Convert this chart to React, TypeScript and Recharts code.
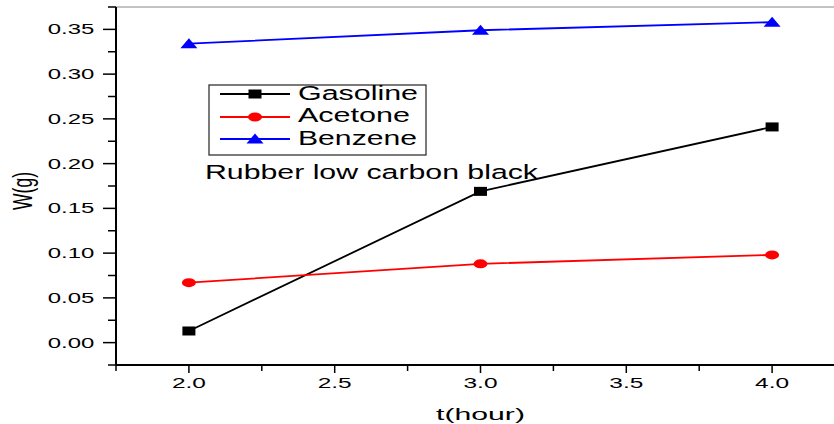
import React from "react";
import { LineChart, Line, XAxis, YAxis, ReferenceLine, Legend, Label } from "recharts";

// ---- data ----
const hours = [2.0, 3.0, 4.0];
const gasoline = [0.013, 0.169, 0.241];
const acetone = [0.067, 0.088, 0.098];
const benzene = [0.334, 0.349, 0.358];
const seriesNames = ["Gasoline", "Acetone", "Benzene"];
const xTicks = [1.75, 2.0, 2.25, 2.5, 2.75, 3.0, 3.25, 3.5, 3.75, 4.0, 4.25];
const yTicks = [-0.025, 0.0, 0.025, 0.05, 0.075, 0.1, 0.125, 0.15, 0.175, 0.2, 0.225, 0.25, 0.275, 0.3, 0.325, 0.35, 0.375];
const titleX = "t(hour)";
const titleY = "W(g)";
const note = "Rubber low carbon black";

const data = hours.map((h, i) => ({
  t: h,
  Gasoline: gasoline[i],
  Acetone: acetone[i],
  Benzene: benzene[i],
}));

const FONT = "'Liberation Sans', Arial, sans-serif";
const COLORS: Record<string, string> = { Gasoline: "#000000", Acetone: "#ff0000", Benzene: "#0000ff" };

const isMult = (v: number, step: number) => Math.abs(v / step - Math.round(v / step)) < 1e-6;

const Marker = ({ kind, cx, cy, color }: { kind: string; cx: number; cy: number; color: string }) => {
  if (cx == null || cy == null) return null;
  if (kind === "Gasoline") return <rect x={cx - 6.5} y={cy - 4.5} width={13} height={9} fill={color} />;
  if (kind === "Acetone") return <ellipse cx={cx} cy={cy} rx={7} ry={4.5} fill={color} />;
  return <polygon points={`${cx - 8.5},${cy + 4.5} ${cx + 8.5},${cy + 4.5} ${cx},${cy - 5.5}`} fill={color} />;
};

const makeDot = (name: string) => (p: any) => (
  <Marker key={`${name}-${p.index}`} kind={name} cx={p.cx} cy={p.cy} color={COLORS[name]} />
);

const XTick = (p: any) => {
  const v = p.payload.value as number;
  const major = isMult(v, 0.5);
  return (
    <g>
      <line x1={p.x} x2={p.x} y1={p.y} y2={p.y + (major ? 8 : 6)} stroke="#000" strokeWidth={1.5} />
      {major && v > 1.8 && (
        <text x={p.x - 17} y={p.y + 23} fontFamily={FONT} fontSize={14} textLength={34} lengthAdjust="spacingAndGlyphs" fill="#000">
          {v.toFixed(1)}
        </text>
      )}
    </g>
  );
};

const YTick = (p: any) => {
  const v = p.payload.value as number;
  const major = isMult(v, 0.05);
  return (
    <g>
      <line x1={p.x} x2={p.x - (major ? 13 : 8)} y1={p.y} y2={p.y} stroke="#000" strokeWidth={1.5} />
      {major && (
        <text x={p.x - 68.3} y={p.y + 5} fontFamily={FONT} fontSize={14} textLength={46.6} lengthAdjust="spacingAndGlyphs" fill="#000">
          {v.toFixed(2)}
        </text>
      )}
    </g>
  );
};

const XTitle = (props: any) => {
  const vb = props.viewBox || { x: 116, y: 365, width: 729, height: 59 };
  const cx = vb.x + vb.width / 2;
  return (
    <text x={cx - 44.5} y={vb.y + vb.height - 4} fontFamily={FONT} fontSize={17} textLength={89} lengthAdjust="spacingAndGlyphs" fill="#000">
      {titleX}
    </text>
  );
};

const YTitle = () => (
  <text
    transform="translate(32,210) rotate(-90)"
    x={0}
    y={0}
    fontFamily={FONT}
    fontSize={27}
    textLength={38}
    lengthAdjust="spacingAndGlyphs"
    fill="#000"
  >
    {titleY}
  </text>
);

const LegendBox = (props: any) => {
  const payload = ([...(props.payload || [])] as any[]).sort(
    (a, b) => seriesNames.indexOf(a.value) - seriesNames.indexOf(b.value)
  );
  const rows = [14, 37, 59];
  const base = [20, 42, 65];
  const widths: Record<string, number> = { Gasoline: 120, Acetone: 112, Benzene: 119 };
  return (
    <svg width={345} height={110} style={{ display: "block", overflow: "visible" }}>
      <rect x={9} y={5} width={217} height={70} fill="#fff" stroke="#333" strokeWidth={1.3} />
      {payload.map((e, i) => {
        const name = e.value as string;
        const color = e.color || COLORS[name];
        return (
          <g key={name}>
            <line x1={20} x2={90} y1={rows[i]} y2={rows[i]} stroke={color} strokeWidth={1.8} />
            <Marker kind={name} cx={55} cy={rows[i]} color={color} />
            <text x={98} y={base[i]} fontFamily={FONT} fontSize={19.5} textLength={widths[name]} lengthAdjust="spacingAndGlyphs" fill="#000">
              {name}
            </text>
          </g>
        );
      })}
      <text x={5} y={99} fontFamily={FONT} fontSize={20.5} textLength={333} lengthAdjust="spacingAndGlyphs" fill="#000">
        {note}
      </text>
    </svg>
  );
};

export default function App() {
  return (
    <div style={{ position: "fixed", left: 0, top: 0, width: 834, height: 424, overflow: "hidden", background: "#fff" }}>
      <LineChart width={860} height={424} data={data} margin={{ top: 7, right: 15, bottom: 0, left: 0 }}>
        <XAxis
          dataKey="t"
          type="number"
          domain={[1.75, 4.25]}
          ticks={xTicks}
          interval={0}
          allowDataOverflow
          height={59}
          tickSize={0}
          tickMargin={0}
          tickLine={false}
          axisLine={{ stroke: "#000", strokeWidth: 2 }}
          tick={<XTick />}
          label={<Label content={<XTitle />} />}
        />
        <YAxis
          type="number"
          domain={[-0.025, 0.375]}
          ticks={yTicks}
          interval={0}
          allowDataOverflow
          width={116}
          tickSize={0}
          tickMargin={0}
          tickLine={false}
          axisLine={{ stroke: "#000", strokeWidth: 2 }}
          tick={<YTick />}
          label={<Label content={<YTitle />} />}
        />
        <ReferenceLine y={0.375} stroke="#888" strokeWidth={1} />
        <Legend
          content={<LegendBox />}
          wrapperStyle={{ position: "absolute", left: 200, top: 80, width: 0, height: 0, overflow: "visible" }}
        />
        {seriesNames.map((name) => (
          <Line
            key={name}
            type="linear"
            dataKey={name}
            name={name}
            stroke={COLORS[name]}
            strokeWidth={1.8}
            dot={makeDot(name)}
            activeDot={false}
            isAnimationActive={false}
            legendType="line"
          />
        ))}
      </LineChart>
    </div>
  );
}
